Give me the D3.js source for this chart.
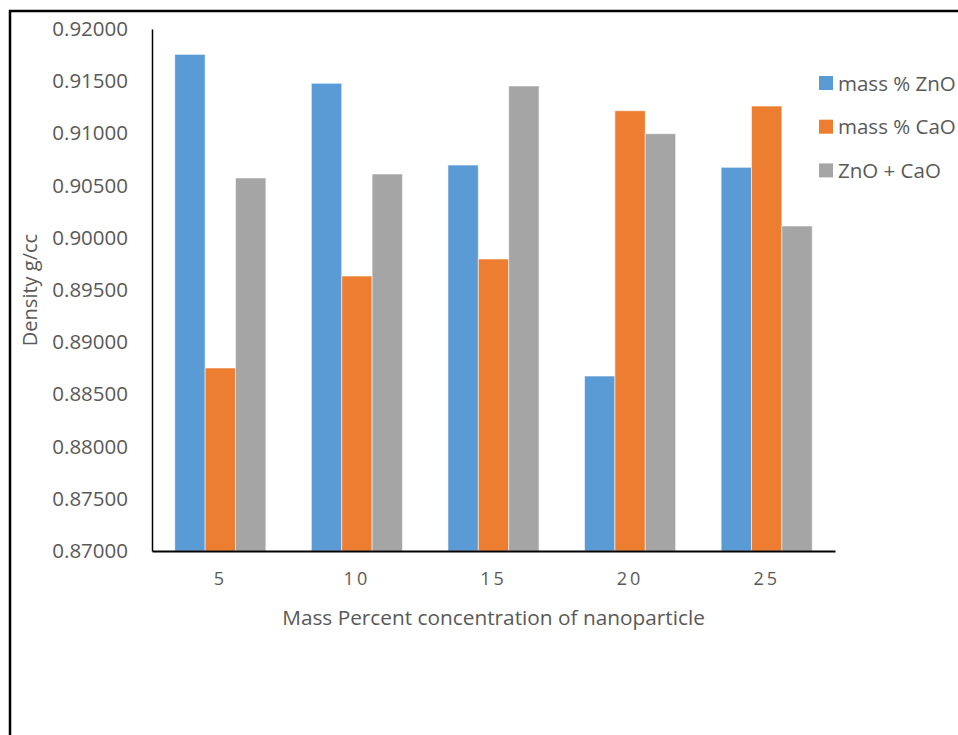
<!DOCTYPE html>
<html>
<head>
<meta charset="utf-8">
<script src="https://cdn.jsdelivr.net/npm/d3@7"></script>
<style>
  html, body { margin: 0; padding: 0; background: #fff; }
  svg { display: block; }
  text { font-family: "Open Sans", "Noto Sans", sans-serif; fill: #595959; }
</style>
</head>
<body>
<svg id="chart" width="958" height="735"></svg>
<script>
// Mass percent of nanoparticle (x categories)
const categories = ["5", "10", "15", "20", "25"];
// Series names and density values (g/cc)
const seriesNames = ["mass % ZnO", "mass % CaO", "ZnO + CaO"];
const znoValues = [0.91757, 0.91480, 0.90697, 0.88676, 0.90675];
const caoValues = [0.88753, 0.89634, 0.89797, 0.91217, 0.91262];
const mixValues = [0.90573, 0.90611, 0.91454, 0.90997, 0.90113];
const seriesColors = ["#5B9BD5", "#ED7D31", "#A5A5A5"];
const yTicks = [0.870, 0.875, 0.880, 0.885, 0.890, 0.895, 0.900, 0.905, 0.910, 0.915, 0.920];

const series = [znoValues, caoValues, mixValues];

const svg = d3.select("#chart");

// outer frame
svg.append("rect")
  .attr("x", 10).attr("y", 11)
  .attr("width", 1200).attr("height", 1200)
  .attr("fill", "none").attr("stroke", "#000").attr("stroke-width", 2.5);

const plot = { left: 152, right: 835, top: 29, bottom: 551 };

const x0 = d3.scaleBand()
  .domain(categories)
  .range([plot.left, plot.right])
  .paddingInner(0.333)
  .paddingOuter(0.1667);

const x1 = d3.scaleBand()
  .domain(d3.range(series.length))
  .range([0, x0.bandwidth()]);

const y = d3.scaleLinear()
  .domain([0.87, 0.92])
  .range([plot.bottom, plot.top]);

// bars
const groups = svg.append("g").selectAll("g")
  .data(categories)
  .join("g")
  .attr("transform", d => `translate(${x0(d)},0)`);

groups.selectAll("rect")
  .data((c, i) => series.map((s, k) => ({ k, v: s[i] })))
  .join("rect")
  .attr("x", d => x1(d.k))
  .attr("width", x1.bandwidth())
  .attr("y", d => y(d.v))
  .attr("height", d => y(0.87) - y(d.v))
  .attr("fill", d => seriesColors[d.k])
  .attr("stroke", "#ffffff")
  .attr("stroke-opacity", 0.55)
  .attr("stroke-width", 1);

// y axis
const yAxis = d3.axisLeft(y)
  .tickValues(yTicks)
  .tickFormat(d3.format(".5f"))
  .tickSize(0)
  .tickPadding(24);

const yg = svg.append("g")
  .attr("transform", `translate(${plot.left},0)`)
  .call(yAxis);
yg.select(".domain").attr("stroke", "#000").attr("stroke-width", 1.5);
yg.selectAll("text")
  .style("font-size", "20.5px")
  .style("fill", "#595959");

// x axis
const xAxis = d3.axisBottom(x0).tickSize(0).tickPadding(21);
const xg = svg.append("g")
  .attr("transform", `translate(0,${plot.bottom})`)
  .call(xAxis);
xg.select(".domain").attr("stroke", "#000").attr("stroke-width", 2);
xg.selectAll("text")
  .style("font-size", "18px")
  .style("letter-spacing", "3px")
  .style("fill", "#595959");

// axis titles
svg.append("text")
  .attr("x", (plot.left + plot.right) / 2)
  .attr("y", 625)
  .attr("text-anchor", "middle")
  .style("font-size", "20.8px")
  .text("Mass Percent concentration of nanoparticle");

svg.append("text")
  .attr("transform", `translate(37,${(plot.top + plot.bottom) / 2}) rotate(-90)`)
  .attr("text-anchor", "middle")
  .style("font-size", "20px")
  .text("Density g/cc");

// legend
const legend = svg.append("g").selectAll("g")
  .data(seriesNames)
  .join("g")
  .attr("transform", (d, i) => `translate(819,${76 + i * 43.7})`);

legend.append("rect")
  .attr("width", 14).attr("height", 14)
  .attr("fill", (d, i) => seriesColors[i]);

legend.append("text")
  .attr("x", 19).attr("y", 14.5)
  .style("font-size", "20.5px")
  .text(d => d);
</script>
</body>
</html>
